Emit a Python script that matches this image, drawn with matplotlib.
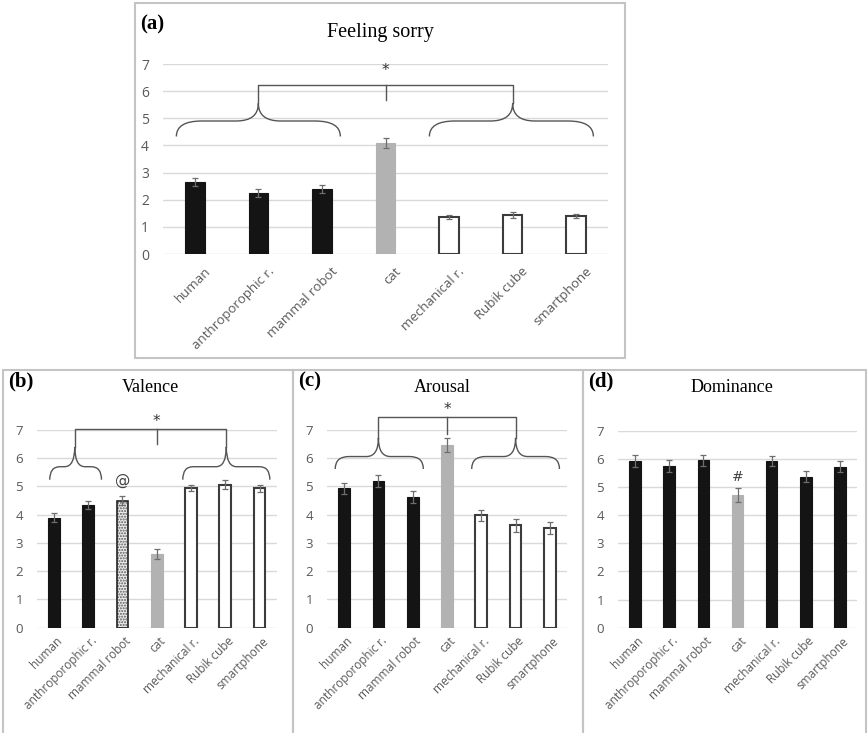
import numpy as np
import matplotlib.pyplot as plt
import matplotlib.transforms as mtransforms
from matplotlib.patches import Rectangle, PathPatch
from matplotlib.path import Path

categories = ['human', 'anthroporophic r.', 'mammal robot', 'cat',
              'mechanical r.', 'Rubik cube', 'smartphone']

sorry_mean = [2.65, 2.25, 2.40, 4.10, 1.37, 1.43, 1.40]
sorry_err = [0.15, 0.15, 0.15, 0.18, 0.08, 0.10, 0.08]

valence_mean = [3.90, 4.35, 4.50, 2.60, 4.95, 5.07, 4.93]
valence_err = [0.15, 0.15, 0.15, 0.18, 0.12, 0.15, 0.12]

arousal_mean = [4.93, 5.20, 4.63, 6.47, 3.98, 3.62, 3.53]
arousal_err = [0.20, 0.22, 0.20, 0.25, 0.20, 0.22, 0.20]

dominance_mean = [5.92, 5.75, 5.95, 4.70, 5.93, 5.37, 5.72]
dominance_err = [0.20, 0.20, 0.20, 0.25, 0.18, 0.20, 0.20]

TICK_GREY = '#595959'
GRID_GREY = '#d9d9d9'
BOX_GREY = '#c4c4c4'
CAT_GREY = '#b2b2b2'
SERIF = 'Liberation Serif'
SANS = 'Open Sans'

W, H = 868, 733
fig = plt.figure(figsize=(W / 100, H / 100), dpi=100)


def fx(px):
    return px / W


def fy(py):
    return 1 - py / H


def bar_styles(kind):
    # kind: 'k' black, 'g' grey, 'w' white outline, 'h' dotted
    if kind == 'k':
        return dict(color='#141414', edgecolor='#141414', linewidth=0.8)
    if kind == 'g':
        return dict(color=CAT_GREY, edgecolor=CAT_GREY, linewidth=0.8)
    if kind == 'h':
        return dict(color='#ececec', edgecolor='#5a5a5a', linewidth=0, hatch='......')
    return dict(color='white', edgecolor='#3c3c3c', linewidth=1.5)


def draw_panel(rect, means, errs, kinds, width, label_size=8, shift=(0, 0)):
    ax = fig.add_axes(rect)
    x = np.arange(len(means))
    for i in x:
        ax.bar(x[i], means[i], width=width, zorder=3, **bar_styles(kinds[i]))
        if kinds[i] == 'h':
            ax.bar(x[i], means[i], width=width, zorder=3, fill=False,
                   edgecolor='#222222', linewidth=1.2)
    ax.errorbar(x, means, yerr=errs, fmt='none', ecolor='#6e6e6e',
                elinewidth=0.9, capsize=2.5, capthick=0.9, zorder=4)
    ax.set_xlim(-0.5, 6.5)
    ax.set_ylim(0, 7)
    ax.set_yticks(range(8))
    ax.yaxis.grid(True, color=GRID_GREY, linewidth=1.0, zorder=0)
    ax.set_axisbelow(True)
    for s in ax.spines.values():
        s.set_visible(False)
    ax.tick_params(length=0, colors=TICK_GREY, labelsize=label_size)
    ax.tick_params(axis='y', pad=10)
    ax.set_xticks(x)
    ax.set_xticklabels(categories, rotation=45, ha='right',
                       rotation_mode='anchor', fontfamily=SANS)
    offset = mtransforms.ScaledTranslation(shift[0] / 100, shift[1] / 100,
                                           fig.dpi_scale_trans)
    for t in ax.get_xticklabels():
        t.set_transform(t.get_transform() + offset)
    for t in ax.get_yticklabels():
        t.set_fontfamily(SANS)
    ax.patch.set_alpha(0)
    return ax


def brace(ax, x0, x1, xc, y_end, y_h, y_tip, d_end, d_tip):
    verts = [(x0, y_end), (x0, y_h), (x0 + d_end, y_h),
             (xc - d_tip, y_h), (xc, y_h), (xc, y_tip),
             (xc, y_h), (xc + d_tip, y_h),
             (x1 - d_end, y_h), (x1, y_h), (x1, y_end)]
    codes = [Path.MOVETO, Path.CURVE3, Path.CURVE3,
             Path.LINETO, Path.CURVE3, Path.CURVE3,
             Path.CURVE3, Path.CURVE3,
             Path.LINETO, Path.CURVE3, Path.CURVE3]
    ax.add_patch(PathPatch(Path(verts, codes), facecolor='none',
                           edgecolor='#555555', linewidth=1.0, clip_on=False, zorder=5))


def group_bracket(ax, left, right, y_end, y_h, y_tip, y_top, y_mid, y_star,
                  d_end, d_tip, star_size=11):
    brace(ax, *left, y_end, y_h, y_tip, d_end, d_tip)
    brace(ax, *right, y_end, y_h, y_tip, d_end, d_tip)
    lc, rc = left[2], right[2]
    kw = dict(color='#555555', linewidth=1.0, clip_on=False, zorder=5)
    ax.plot([lc, lc, rc, rc], [y_tip, y_top, y_top, y_tip], **kw)
    ax.plot([3, 3], [y_top, y_mid], **kw)
    ax.text(3, y_star, '*', ha='center', va='center', fontsize=star_size,
            color='#333333', fontfamily='DejaVu Sans')


# panel frames
frames = [(135, 3, 625, 358), (3, 370, 293, 760), (293, 370, 583, 760), (583, 370, 866, 760)]
for x0, y0, x1, y1 in frames:
    fig.patches.append(Rectangle((fx(x0), fy(y1)), fx(x1) - fx(x0), fy(y0) - fy(y1),
                                 transform=fig.transFigure, fill=False,
                                 edgecolor=BOX_GREY, linewidth=1.5))

# (a) feeling sorry
kinds_a = ['k', 'k', 'k', 'g', 'w', 'w', 'w']
ax_a = draw_panel([fx(163), fy(254), fx(608) - fx(163), fy(64) - fy(254)],
                  sorry_mean, sorry_err, kinds_a, width=0.31, label_size=9.5,
                  shift=(9, -6))
ax_a.tick_params(axis='y', labelsize=10)
group_bracket(ax_a, (-0.29, 2.29, 1.0), (3.69, 6.27, 5.0),
              4.33, 4.9, 5.55, 6.22, 5.67, 6.75, 0.4, 0.35)
fig.text(fx(140), fy(24), '(a)', fontsize=15, fontweight='bold', fontfamily=SERIF,
         va='center', ha='left')
fig.text(fx(380), fy(33), 'Feeling sorry', fontsize=14.5, fontfamily=SERIF,
         va='center', ha='center')

# (b) valence
kinds_b = ['k', 'k', 'h', 'g', 'w', 'w', 'w']
ax_b = draw_panel([fx(36.7), fy(627.7), fx(276.7) - fx(36.7), fy(430) - fy(627.7)],
                  valence_mean, valence_err, kinds_b, width=0.34, label_size=8.5,
                  shift=(2, -2))
ax_b.tick_params(axis='y', labelsize=9.5)
group_bracket(ax_b, (-0.12, 1.39, 0.61), (3.76, 6.30, 5.03),
              5.24, 5.7, 6.4, 7.05, 6.5, 7.3, 0.3, 0.3)
ax_b.text(2, valence_mean[2] + valence_err[2] + 0.3, '@', ha='center', va='bottom',
          fontsize=11, color='#444444', fontfamily='DejaVu Sans')
fig.text(fx(8), fy(381), '(b)', fontsize=15, fontweight='bold', fontfamily=SERIF,
         va='center', ha='left')
fig.text(fx(150), fy(388), 'Valence', fontsize=13, fontfamily=SERIF,
         va='center', ha='center')

# (c) arousal
kinds_c = ['k', 'k', 'k', 'g', 'w', 'w', 'w']
ax_c = draw_panel([fx(327), fy(627.7), fx(567) - fx(327), fy(430) - fy(627.7)],
                  arousal_mean, arousal_err, kinds_c, width=0.34, label_size=8.5,
                  shift=(2, -2))
ax_c.tick_params(axis='y', labelsize=9.5)
group_bracket(ax_c, (-0.26, 2.31, 1.0), (3.72, 6.28, 5.0),
              5.62, 6.06, 6.72, 7.46, 6.87, 7.72, 0.4, 0.35)
fig.text(fx(298), fy(381), '(c)', fontsize=15, fontweight='bold', fontfamily=SERIF,
         va='center', ha='left')
fig.text(fx(442), fy(388), 'Arousal', fontsize=13, fontfamily=SERIF,
         va='center', ha='center')

# (d) dominance
kinds_d = ['k', 'k', 'k', 'g', 'k', 'k', 'k']
ax_d = draw_panel([fx(618), fy(627.7), fx(857) - fx(618), fy(430.7) - fy(627.7)],
                  dominance_mean, dominance_err, kinds_d, width=0.34, label_size=8.5,
                  shift=(2, -2))
ax_d.tick_params(axis='y', labelsize=9.5)
ax_d.text(3, dominance_mean[3] + dominance_err[3] + 0.15, '#', ha='center', va='bottom',
          fontsize=10, color='#444444', fontfamily='DejaVu Sans')
fig.text(fx(588), fy(381), '(d)', fontsize=15, fontweight='bold', fontfamily=SERIF,
         va='center', ha='left')
fig.text(fx(732), fy(388), 'Dominance', fontsize=13, fontfamily=SERIF,
         va='center', ha='center')

fig.savefig('out.png', dpi=100, facecolor='white')
